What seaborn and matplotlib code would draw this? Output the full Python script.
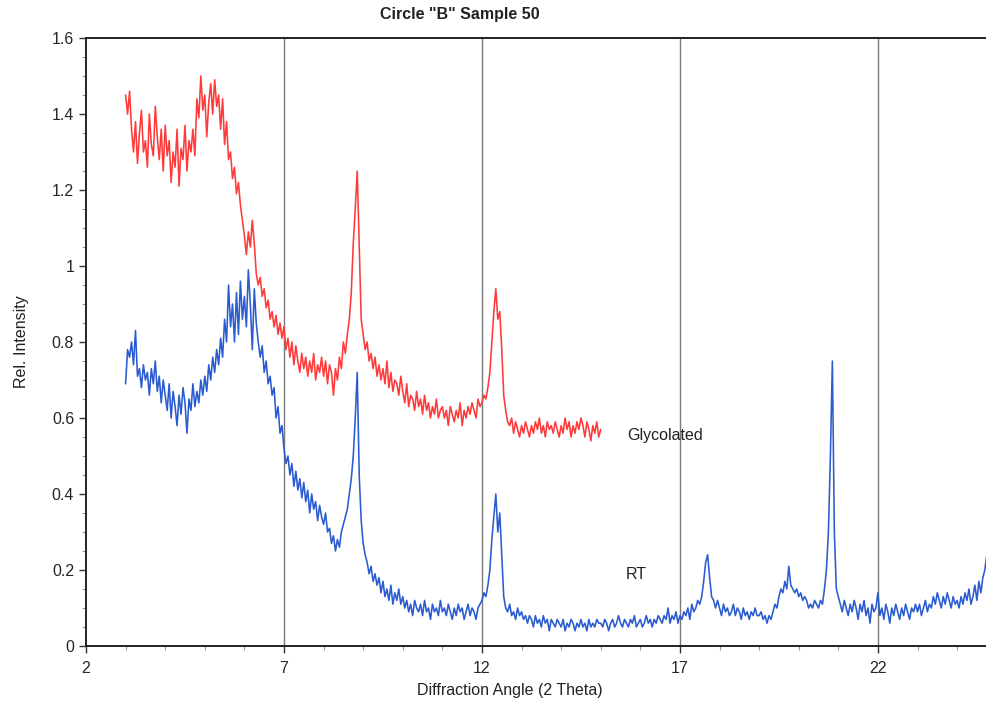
import numpy as np
import pandas as pd
import matplotlib
matplotlib.use('Agg')
import matplotlib.pyplot as plt
import matplotlib.ticker as ticker
import seaborn as sns

# scan settings (2 theta, degrees)
scan_start = 3.0
scan_step = 0.05

# Glycolated trace, one row per degree (3 .. 15)
glycolated = [
    1.45, 1.40, 1.46, 1.36, 1.30, 1.38, 1.27, 1.35, 1.41, 1.30, 1.33, 1.26, 1.40, 1.32, 1.29, 1.42, 1.34, 1.28, 1.36, 1.25,
    1.37, 1.29, 1.33, 1.22, 1.30, 1.26, 1.36, 1.21, 1.31, 1.28, 1.37, 1.25, 1.33, 1.30, 1.36, 1.29, 1.44, 1.39, 1.50, 1.41,
    1.45, 1.34, 1.43, 1.48, 1.40, 1.49, 1.42, 1.45, 1.36, 1.44, 1.32, 1.38, 1.28, 1.30, 1.23, 1.26, 1.19, 1.22, 1.16, 1.12,
    1.08, 1.03, 1.09, 1.05, 1.12, 1.06, 0.98, 0.95, 0.97, 0.92, 0.94, 0.89, 0.91, 0.86, 0.88, 0.84, 0.87, 0.82, 0.85, 0.81,
    0.84, 0.78, 0.81, 0.76, 0.80, 0.74, 0.79, 0.75, 0.72, 0.77, 0.73, 0.76, 0.71, 0.75, 0.72, 0.77, 0.70, 0.74, 0.72, 0.76,
    0.71, 0.75, 0.69, 0.74, 0.72, 0.66, 0.73, 0.70, 0.76, 0.73, 0.80, 0.77, 0.82, 0.86, 0.93, 1.06, 1.15, 1.25, 1.05, 0.86,
    0.82, 0.78, 0.80, 0.75, 0.77, 0.73, 0.76, 0.71, 0.74, 0.70, 0.73, 0.69, 0.75, 0.68, 0.72, 0.67, 0.70, 0.69, 0.66, 0.71,
    0.67, 0.64, 0.69, 0.63, 0.66, 0.65, 0.62, 0.67, 0.63, 0.65, 0.61, 0.66, 0.62, 0.64, 0.60, 0.63, 0.61, 0.65, 0.60, 0.62,
    0.63, 0.60, 0.62, 0.58, 0.63, 0.61, 0.59, 0.62, 0.60, 0.64, 0.58, 0.62, 0.60, 0.63, 0.61, 0.64, 0.62, 0.60, 0.65, 0.63,
    0.64, 0.66, 0.65, 0.68, 0.72, 0.80, 0.88, 0.94, 0.86, 0.88, 0.78, 0.66, 0.62, 0.59, 0.58, 0.60, 0.56, 0.59, 0.57, 0.55,
    0.58, 0.56, 0.59, 0.57, 0.55, 0.58, 0.56, 0.59, 0.57, 0.60, 0.56, 0.58, 0.55, 0.59, 0.57, 0.58, 0.56, 0.59, 0.57, 0.55,
    0.58, 0.56, 0.60, 0.57, 0.59, 0.55, 0.58, 0.56, 0.59, 0.57, 0.60, 0.58, 0.55, 0.59, 0.57, 0.54, 0.58, 0.56, 0.59, 0.55,
    0.57,
]

# RT trace, one row per degree (3 .. 24.75)
rt = [
    0.69, 0.78, 0.76, 0.80, 0.74, 0.83, 0.71, 0.73, 0.68, 0.74, 0.70, 0.72, 0.66, 0.73, 0.69, 0.75, 0.67, 0.71, 0.64, 0.70,
    0.66, 0.62, 0.69, 0.60, 0.67, 0.63, 0.58, 0.66, 0.61, 0.68, 0.64, 0.56, 0.65, 0.62, 0.69, 0.63, 0.67, 0.64, 0.70, 0.66,
    0.71, 0.67, 0.74, 0.70, 0.76, 0.72, 0.78, 0.74, 0.81, 0.76, 0.86, 0.80, 0.95, 0.84, 0.90, 0.80, 0.93, 0.82, 0.96, 0.86,
    0.92, 0.84, 0.99, 0.90, 0.78, 0.94, 0.85, 0.80, 0.76, 0.79, 0.72, 0.75, 0.69, 0.71, 0.66, 0.68, 0.60, 0.63, 0.56, 0.58,
    0.52, 0.48, 0.50, 0.45, 0.48, 0.42, 0.46, 0.41, 0.44, 0.39, 0.43, 0.38, 0.41, 0.35, 0.40, 0.36, 0.38, 0.33, 0.37, 0.34,
    0.32, 0.35, 0.30, 0.31, 0.27, 0.29, 0.25, 0.28, 0.26, 0.30, 0.32, 0.34, 0.36, 0.40, 0.44, 0.50, 0.60, 0.72, 0.45, 0.33,
    0.27, 0.24, 0.22, 0.19, 0.21, 0.17, 0.19, 0.16, 0.18, 0.14, 0.17, 0.13, 0.15, 0.12, 0.16, 0.11, 0.14, 0.12, 0.15, 0.11,
    0.13, 0.10, 0.12, 0.09, 0.11, 0.08, 0.12, 0.10, 0.09, 0.11, 0.08, 0.12, 0.09, 0.10, 0.07, 0.11, 0.09, 0.10, 0.08, 0.12,
    0.09, 0.10, 0.08, 0.11, 0.09, 0.07, 0.10, 0.08, 0.11, 0.09, 0.10, 0.07, 0.09, 0.11, 0.08, 0.10, 0.09, 0.07, 0.10, 0.11,
    0.12, 0.14, 0.13, 0.16, 0.20, 0.28, 0.34, 0.40, 0.30, 0.35, 0.24, 0.13, 0.10, 0.09, 0.11, 0.08, 0.09, 0.07, 0.10, 0.08,
    0.09, 0.07, 0.08, 0.06, 0.08, 0.07, 0.05, 0.08, 0.06, 0.07, 0.05, 0.08, 0.06, 0.07, 0.04, 0.07, 0.06, 0.05, 0.07, 0.06,
    0.05, 0.07, 0.04, 0.06, 0.05, 0.07, 0.06, 0.04, 0.06, 0.05, 0.07, 0.05, 0.06, 0.04, 0.07, 0.05, 0.06, 0.05, 0.07, 0.06,
    0.06, 0.05, 0.07, 0.06, 0.04, 0.06, 0.07, 0.05, 0.06, 0.08, 0.06, 0.05, 0.07, 0.06, 0.05, 0.07, 0.06, 0.08, 0.05, 0.06,
    0.07, 0.05, 0.06, 0.08, 0.06, 0.07, 0.05, 0.07, 0.06, 0.08, 0.07, 0.06, 0.08, 0.07, 0.10, 0.06, 0.08, 0.07, 0.09, 0.06,
    0.08, 0.07, 0.09, 0.08, 0.10, 0.07, 0.11, 0.09, 0.10, 0.12, 0.11, 0.13, 0.17, 0.22, 0.24, 0.18, 0.13, 0.12, 0.10, 0.12,
    0.10, 0.08, 0.11, 0.09, 0.10, 0.08, 0.09, 0.11, 0.08, 0.10, 0.09, 0.07, 0.10, 0.08, 0.09, 0.07, 0.09, 0.08, 0.10, 0.08,
    0.08, 0.09, 0.07, 0.08, 0.06, 0.08, 0.07, 0.09, 0.11, 0.10, 0.13, 0.15, 0.14, 0.17, 0.15, 0.21, 0.16, 0.15, 0.14, 0.15,
    0.13, 0.14, 0.12, 0.13, 0.12, 0.10, 0.11, 0.10, 0.12, 0.11, 0.10, 0.12, 0.11, 0.15, 0.20, 0.30, 0.50, 0.75, 0.30, 0.15,
    0.13, 0.11, 0.09, 0.12, 0.10, 0.08, 0.11, 0.09, 0.12, 0.10, 0.07, 0.11, 0.09, 0.12, 0.08, 0.10, 0.06, 0.11, 0.09, 0.10,
    0.14, 0.08, 0.10, 0.07, 0.11, 0.09, 0.06, 0.10, 0.08, 0.11, 0.09, 0.07, 0.10, 0.08, 0.11, 0.09, 0.07, 0.10, 0.09, 0.11,
    0.09, 0.11, 0.08, 0.10, 0.12, 0.09, 0.11, 0.10, 0.13, 0.11, 0.14, 0.12, 0.10, 0.13, 0.11, 0.14, 0.12, 0.10, 0.13, 0.11,
    0.12, 0.10, 0.13, 0.11, 0.14, 0.12, 0.15, 0.11, 0.13, 0.16, 0.12, 0.17, 0.14, 0.18, 0.20, 0.24,
]

x_ticks = [2, 7, 12, 17, 22]
y_ticks = [0, 0.2, 0.4, 0.6, 0.8, 1.0, 1.2, 1.4, 1.6]
grid_x = [7, 12, 17, 22]

sns.set_style('white')
plt.rcParams['font.family'] = ['Liberation Sans', 'DejaVu Sans']

df_gly = pd.DataFrame({'angle': scan_start + scan_step * np.arange(len(glycolated)),
                       'intensity': glycolated})
df_rt = pd.DataFrame({'angle': scan_start + scan_step * np.arange(len(rt)),
                      'intensity': rt})

fig = plt.figure(figsize=(9.86, 7.08), dpi=100)
ax = fig.add_axes([86/986, 1 - 646/708, 900/986, 608/708])

for g in grid_x:
    ax.axvline(g, color='#7a7a7a', lw=1.0, zorder=0)

sns.lineplot(data=df_gly, x='angle', y='intensity', color='#ff3a3a', lw=1.15, ax=ax)
sns.lineplot(data=df_rt, x='angle', y='intensity', color='#2a5bd0', lw=1.15, ax=ax)

ax.set_xlim(2, 24.73)
ax.set_ylim(0, 1.6)
ax.set_xticks(x_ticks)
ax.set_yticks(y_ticks)
ax.xaxis.set_minor_locator(ticker.MultipleLocator(1))
ax.yaxis.set_minor_locator(ticker.MultipleLocator(0.05))
ax.yaxis.set_major_formatter(ticker.FuncFormatter(lambda v, p: '%g' % round(v, 2)))
ax.tick_params(which='both', bottom=True, left=True, top=False, right=False)
ax.tick_params(which='major', direction='out', length=5, width=1, labelsize=11.5, color='#333333')
ax.tick_params(which='minor', direction='out', length=3, width=0.8, color='#999999')
ax.tick_params(axis='x', pad=6)
ax.set_xlabel('')
ax.set_ylabel('')

for s in ['left', 'bottom', 'top']:
    ax.spines[s].set_color('#222222')
    ax.spines[s].set_linewidth(1.4)
ax.spines['right'].set_visible(False)

ax.text(15.66, 0.553, 'Glycolated', fontsize=11.5, va='center', ha='left', color='#222222')
ax.text(15.63, 0.187, 'RT', fontsize=11.5, va='center', ha='left', color='#222222')

fig.text(460/986, 1 - 15/708, 'Circle "B" Sample 50', fontsize=11.5, fontweight='bold',
         ha='center', va='center', color='#222222')
fig.text(510/986, 1 - 690/708, 'Diffraction Angle (2 Theta)', fontsize=11.5,
         ha='center', va='center', color='#222222')
fig.text(22/986, 1 - 342/708, 'Rel. Intensity', fontsize=11.5, rotation=90,
         ha='center', va='center', color='#222222')

fig.savefig('out.png', dpi=100)
